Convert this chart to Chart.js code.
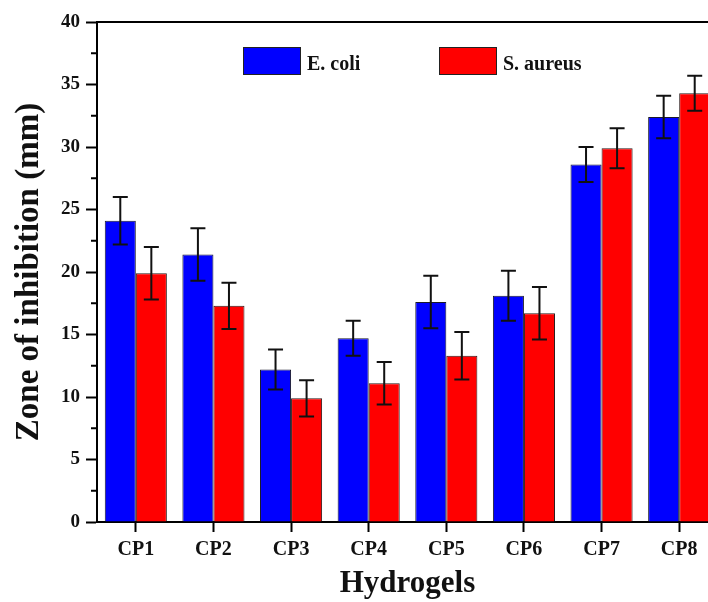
<!DOCTYPE html>
<html>
<head>
<meta charset="utf-8">
<script src="https://cdn.jsdelivr.net/npm/chart.js@4/dist/chart.umd.min.js"></script>
<style>
  html, body { margin: 0; padding: 0; background: #fff; overflow: hidden; width: 708px; height: 602px; }
  #wrap { width: 708px; height: 602px; overflow: hidden; position: relative; }
  canvas { display: block; }
</style>
</head>
<body>
<div id="wrap"><canvas id="c" width="720" height="602"></canvas></div>
<script>
// ---- data ----
const categories = ['CP1', 'CP2', 'CP3', 'CP4', 'CP5', 'CP6', 'CP7', 'CP8'];
const seriesNames = ['E. coli', 'S. aureus'];
const ecoli = [24.1, 21.4, 12.2, 14.7, 17.6, 18.1, 28.6, 32.4];
const ecoliErr = [1.9, 2.1, 1.6, 1.4, 2.1, 2.0, 1.4, 1.7];
const saureus = [19.9, 17.3, 9.9, 11.1, 13.3, 16.7, 29.9, 34.3];
const saureusErr = [2.1, 1.85, 1.45, 1.7, 1.9, 2.1, 1.6, 1.4];
const yTicks = [0, 5, 10, 15, 20, 25, 30, 35, 40];
const yMinorTicks = [2.5, 7.5, 12.5, 17.5, 22.5, 27.5, 32.5, 37.5];
const xTitle = 'Hydrogels';
const yTitle = 'Zone of inhibition (mm)';

const FONT = "'Liberation Serif', 'Times New Roman', serif";

const errorBarPlugin = {
  id: 'errorBars',
  afterDatasetsDraw(chart) {
    const ctx = chart.ctx;
    const yScale = chart.scales.y;
    ctx.save();
    ctx.strokeStyle = '#111';
    ctx.lineWidth = 2;
    chart.data.datasets.forEach((ds, di) => {
      const meta = chart.getDatasetMeta(di);
      meta.data.forEach((el, i) => {
        const v = ds.data[i], e = ds.errors[i];
        const yT = yScale.getPixelForValue(v + e);
        const yB = yScale.getPixelForValue(v - e);
        const x = el.x, cw = 7.5;
        ctx.beginPath();
        ctx.moveTo(x, yT); ctx.lineTo(x, yB);
        ctx.moveTo(x - cw, yT); ctx.lineTo(x + cw, yT);
        ctx.moveTo(x - cw, yB); ctx.lineTo(x + cw, yB);
        ctx.stroke();
      });
    });
    ctx.restore();
  }
};

const framePlugin = {
  id: 'frame',
  afterDraw(chart) {
    const ctx = chart.ctx;
    const a = chart.chartArea;
    const yScale = chart.scales.y;
    ctx.save();
    ctx.strokeStyle = '#000';
    ctx.lineWidth = 2;
    // top frame line
    ctx.beginPath();
    ctx.moveTo(a.left - 1, a.top);
    ctx.lineTo(chart.width, a.top);
    ctx.stroke();
    // minor ticks on y axis
    ctx.beginPath();
    yMinorTicks.forEach(v => {
      const y = yScale.getPixelForValue(v);
      ctx.moveTo(a.left - 6, y);
      ctx.lineTo(a.left, y);
    });
    ctx.stroke();
    // legend inside plot
    const items = chart.data.datasets;
    const offs = [146, 342];
    ctx.font = "bold 20px " + FONT;
    ctx.textBaseline = 'alphabetic';
    ctx.textAlign = 'left';
    items.forEach((ds, i) => {
      const bx = a.left + offs[i], by = a.top + 25;
      ctx.fillStyle = ds.backgroundColor;
      ctx.fillRect(bx, by, 58, 28);
      ctx.lineWidth = 1;
      ctx.strokeStyle = '#222';
      ctx.strokeRect(bx + 0.5, by + 0.5, 57, 27);
      ctx.fillStyle = '#111';
      ctx.fillText(ds.label, bx + 64, by + 22.5);
    });
    ctx.restore();
  }
};

new Chart(document.getElementById('c'), {
  type: 'bar',
  data: {
    labels: categories,
    datasets: [
      { label: seriesNames[0], data: ecoli, errors: ecoliErr, backgroundColor: '#0000ff', borderColor: '#1a1a2a', borderWidth: 1 },
      { label: seriesNames[1], data: saureus, errors: saureusErr, backgroundColor: '#ff0000', borderColor: '#2a1a1a', borderWidth: 1 }
    ]
  },
  options: {
    responsive: false,
    devicePixelRatio: 1,
    animation: false,
    layout: { padding: { top: 22, right: 2, bottom: 0, left: 0 } },
    plugins: { legend: { display: false }, tooltip: { enabled: false } },
    datasets: { bar: { categoryPercentage: 0.8, barPercentage: 1.0 } },
    scales: {
      x: {
        afterFit(s) { s.height = 80; },
        grid: { display: true, drawOnChartArea: false, drawTicks: true, offset: false, tickLength: 10, tickWidth: 2, tickColor: '#000' },
        border: { display: true, color: '#000', width: 2 },
        ticks: { color: '#111', padding: 6, font: { family: FONT, weight: 'bold', size: 20 } },
        title: { display: true, text: xTitle, color: '#111', padding: { top: 0, bottom: 3 }, font: { family: FONT, weight: 'bold', size: 31, lineHeight: 1 } }
      },
      y: {
        min: 0, max: 40,
        afterFit(s) { s.width = 97; },
        afterBuildTicks(s) { s.ticks = yTicks.map(v => ({ value: v })); },
        grid: { display: true, drawOnChartArea: false, drawTicks: true, tickLength: 11, tickWidth: 2, tickColor: '#000' },
        border: { display: true, color: '#000', width: 2 },
        ticks: { color: '#111', padding: 6, font: { family: FONT, weight: 'bold', size: 19 } },
        title: { display: true, text: yTitle, color: '#111', padding: { top: 13, bottom: 0 }, font: { family: FONT, weight: 'bold', size: 33, lineHeight: 1 } }
      }
    }
  },
  plugins: [errorBarPlugin, framePlugin]
});
</script>
</body>
</html>
